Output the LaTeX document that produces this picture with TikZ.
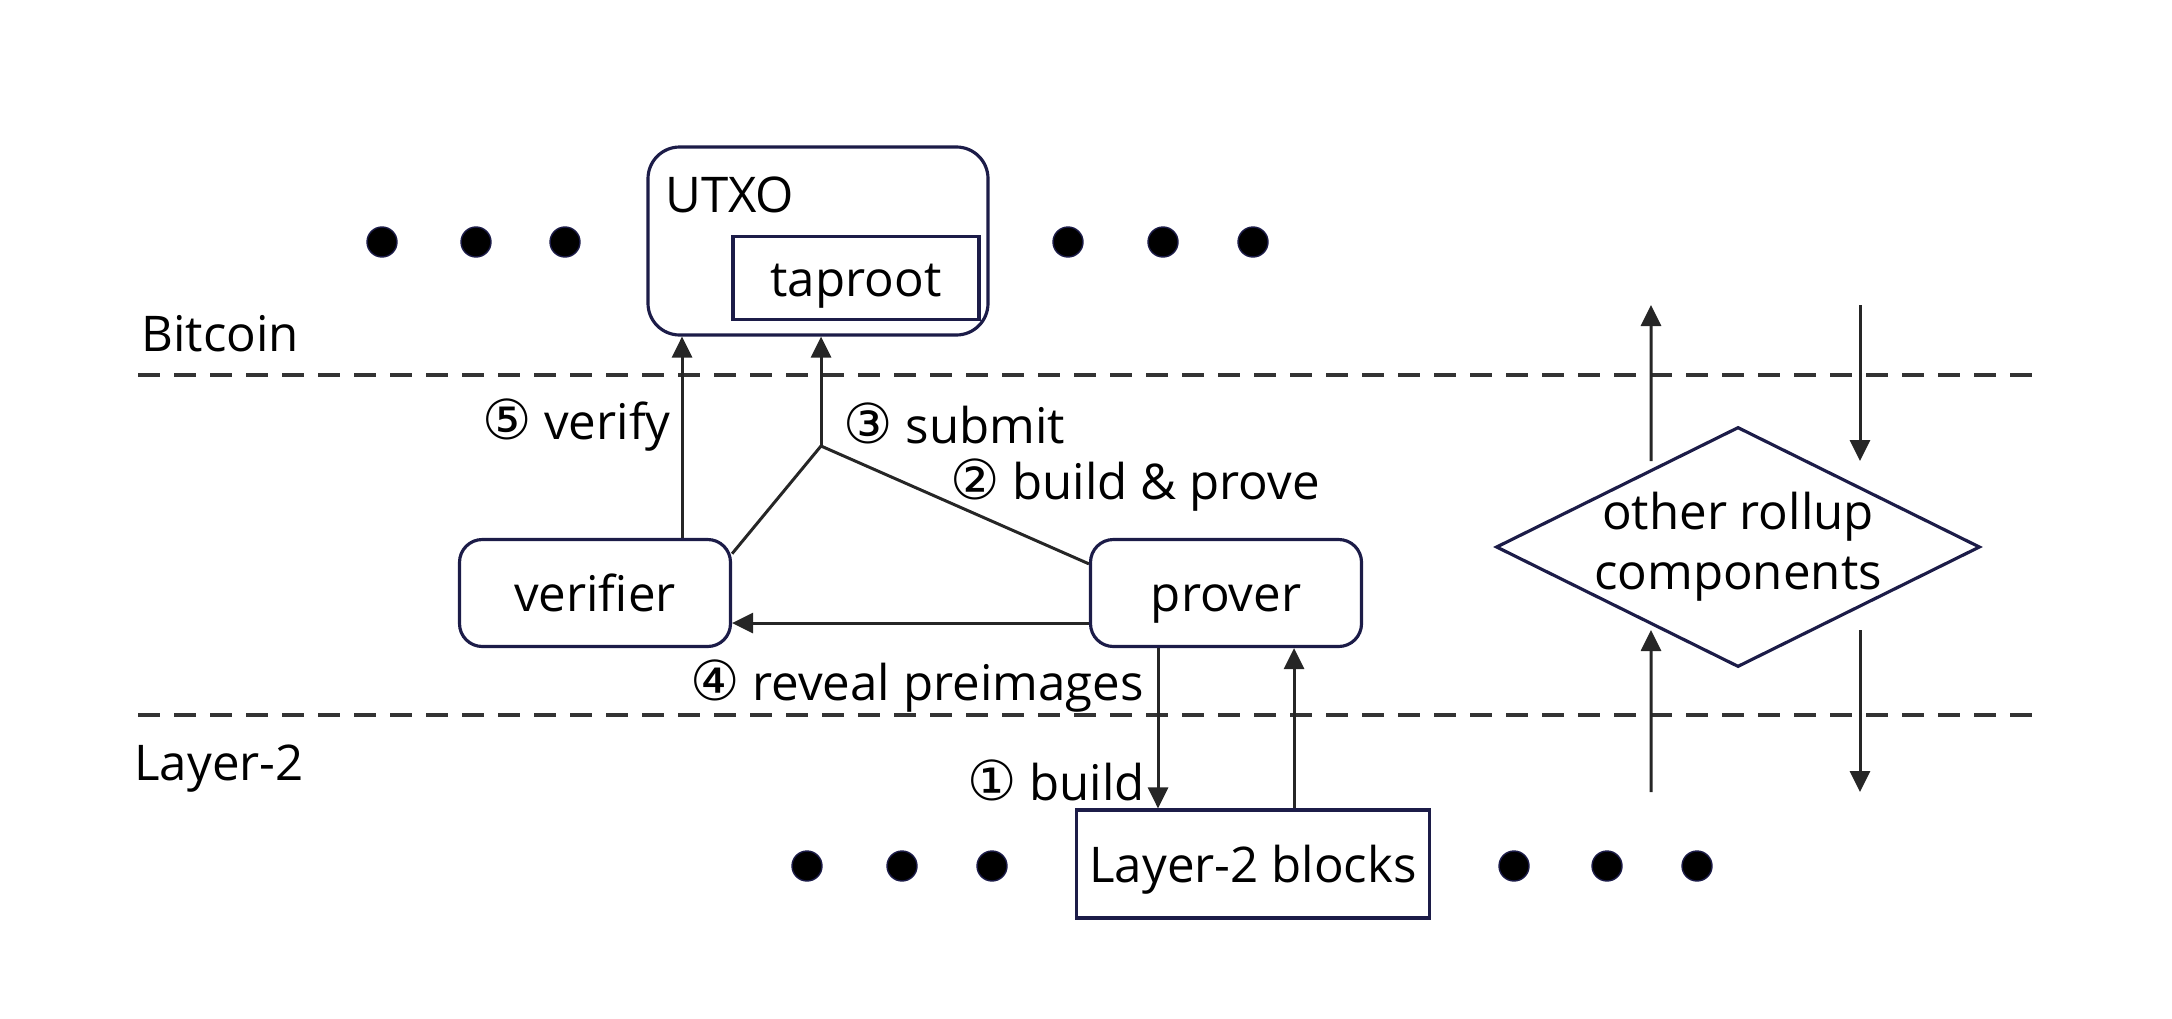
\documentclass[tikz,border=0pt]{standalone}
\usepackage{fontspec}
\setmainfont{Open Sans}
\newfontfamily\circfont[Scale=1.12]{DejaVu Sans}
\usetikzlibrary{positioning,arrows.meta,shapes.geometric,calc}
\definecolor{boxline}{RGB}{28,28,72}
\newcommand{\cnum}[1]{{\circfont #1}}

\begin{document}
\begin{tikzpicture}[
    font=\fontsize{14}{17}\selectfont,
    rbox/.style={draw=boxline, line width=0.9pt, rounded corners=6.5pt, minimum width=27.1mm, minimum height=10.7mm, inner sep=0pt, text height=4.2mm, text depth=0.5mm},
    sbox/.style={draw=boxline, line width=0.9pt, inner sep=0pt, text height=4.2mm, text depth=0.5mm},
    arr/.style={-{Triangle[length=2.1mm, width=2mm]}, line width=0.85pt, black!85},
    lnk/.style={line width=0.85pt, black!85},
    sep/.style={dash pattern=on 2.2mm off 1.4mm, line width=1.1pt, black!80},
    dot/.style={circle, fill=black, draw=boxline, minimum size=3mm, inner sep=0pt},
  ]
  \useasboundingbox (0,0) rectangle (21.72,10.18);
  % bitcoin side
  \node[rbox, minimum width=34mm, minimum height=18.8mm, rounded corners=9pt] (utxo) at (8.18,7.77) {};
  \node[anchor=base west] (utxolab) at (6.53,8.06) {UTXO};
  \node[sbox, minimum width=24.6mm, minimum height=8.3mm] (taproot) at (8.56,7.40) {taproot};
  \foreach \x [count=\i] in {3.82,4.76,5.65,10.68,11.63,12.53}
    \node[dot] (top\i) at (\x,7.76) {};
  \node[anchor=west] (btc) at (1.29,6.84) {Bitcoin};
  \draw[sep] (1.38,6.43) -- (20.33,6.43);
  % off-chain parties
  \node[rbox] (verifier) at (5.95,4.25) {verifier};
  \node[rbox] (prover) at (12.26,4.25) {prover};
  \coordinate (junc) at (8.21,5.72);
  \draw[lnk] (verifier.16) -- (junc) -- (prover.168);
  \draw[arr] (junc) -- (junc |- utxo.south);
  \draw[arr] ([xshift=8.7mm]verifier.north) -- ([xshift=8.7mm]verifier.north |- utxo.south);
  \draw[arr] ([yshift=-3mm]prover.west) -- ([yshift=-3mm]verifier.east);
  \node[anchor=east] (lverify) at (6.83,5.93) {\cnum{⑤} verify};
  \node[anchor=west] (lsubmit) at (8.31,5.95) {\cnum{③} submit};
  \node[anchor=west] (lprove) at (9.38,5.33) {\cnum{②} build \& prove};
  \node (lreveal) at (9.17,3.32) {\cnum{④} reveal preimages};
  % layer-2 side
  \draw[sep] (1.38,3.03) -- (20.33,3.03);
  \node[anchor=west] (l2) at (1.22,2.49) {Layer-2};
  \node[sbox, minimum width=35.3mm, minimum height=10.8mm] (blocks) at (12.53,1.54) {Layer-2 blocks};
  \draw[arr] ([xshift=-6.8mm]prover.south) -- ([xshift=-6.8mm]prover.south |- blocks.north);
  \draw[arr] ([xshift=6.8mm]prover.south |- blocks.north) -- ([xshift=6.8mm]prover.south);
  \node[anchor=east] (lbuild) at (11.57,2.38) {\cnum{①} build};
  \foreach \x [count=\i] in {8.07,9.02,9.92,15.14,16.07,16.97}
    \node[dot] (bot\i) at (\x,1.52) {};
  % other components
  \node[diamond, aspect=2, draw=boxline, line width=0.9pt, minimum width=48.4mm, minimum height=24mm, inner sep=-3mm, align=center] (other) at (17.38,4.71) {other rollup\\components};
  \coordinate (otl) at ($(other.center)+(-0.87,0.86)$);
  \coordinate (otr) at ($(other.center)+(1.22,0.86)$);
  \coordinate (obl) at ($(other.center)+(-0.87,-0.83)$);
  \coordinate (obr) at ($(other.center)+(1.22,-0.83)$);
  \coordinate (upend) at (16.51,7.13);
  \coordinate (dnstart) at (18.60,7.13);
  \coordinate (upstart) at (16.51,2.26);
  \coordinate (dnend) at (18.60,2.26);
  \draw[arr] (otl) -- (upend);
  \draw[arr] (dnstart) -- (otr);
  \draw[arr] (upstart) -- (obl);
  \draw[arr] (obr) -- (dnend);
\end{tikzpicture}
\end{document}
